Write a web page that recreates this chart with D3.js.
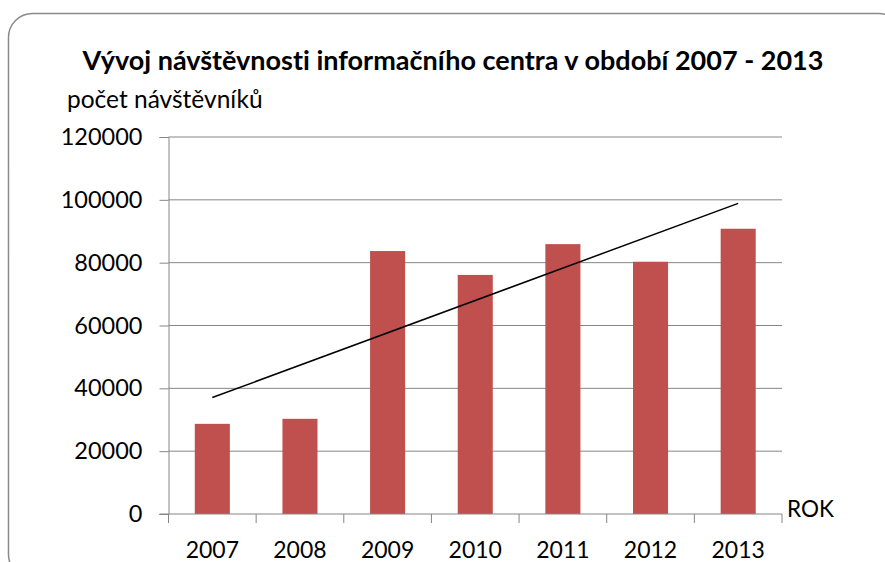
<!DOCTYPE html>
<html><head><meta charset="utf-8">
<script src="https://cdn.jsdelivr.net/npm/d3@7"></script>
<style>
html,body{margin:0;padding:0;background:#fff;}
svg{display:block;font-family:Lato,"Open Sans",sans-serif;font-variant-ligatures:none;font-feature-settings:"liga" 0;}
</style></head>
<body>
<svg id="c" width="885" height="562"></svg>
<script>
const years = ["2007","2008","2009","2010","2011","2012","2013"];
const visitors = [28700, 30300, 83700, 76100, 85900, 80300, 90800];
const yTicks = [0, 20000, 40000, 60000, 80000, 100000, 120000];
const titleText = "Vývoj návštěvnosti informačního centra v období 2007 - 2013";
const yAxisTitle = "počet návštěvníků";
const xAxisTitle = "ROK";

(function(){
const svg = d3.select("#c");
const pLeft = 168.5, pRight = 782, pTop = 137, pBottom = 514;

// frame
svg.append("rect").attr("x",8.5).attr("y",13.5).attr("width",894).attr("height",565)
  .attr("rx",24).attr("fill","#fff").attr("stroke","#8a8a8a").attr("stroke-width",1.5);

const x = d3.scaleBand().domain(years).range([pLeft,pRight]).paddingInner(0.6).paddingOuter(0.3);
const y = d3.scaleLinear().domain([0,120000]).range([pBottom,pTop]);

// gridlines
svg.append("g").selectAll("line").data(yTicks.filter(d=>d>0)).join("line")
  .attr("x1",pLeft).attr("x2",pRight).attr("y1",d=>y(d)).attr("y2",d=>y(d))
  .attr("stroke","#868686").attr("stroke-width",1);

// y axis
const yAxis = d3.axisLeft(y).tickValues(yTicks).tickSize(9).tickPadding(17).tickFormat(d3.format("d"));
const gy = svg.append("g").attr("transform",`translate(${pLeft},0)`).call(yAxis);
gy.select(".domain").attr("stroke","#868686");
gy.selectAll(".tick line").attr("stroke","#868686");
gy.selectAll("text").attr("font-size",23.5).attr("fill","#000").attr("font-family","Lato");

// bars
svg.append("g").selectAll("rect").data(years).join("rect")
  .attr("x",d=>x(d)).attr("width",x.bandwidth())
  .attr("y",(d,i)=>y(visitors[i])).attr("height",(d,i)=>pBottom-y(visitors[i]))
  .attr("fill","#C0504D");

// x axis
const gx = svg.append("g").attr("transform",`translate(0,${pBottom})`);
gx.append("line").attr("x1",pLeft-9).attr("x2",pRight).attr("y1",0).attr("y2",0).attr("stroke","#868686");
const step = x.step();
const bounds = d3.range(years.length+1).map(i=>pLeft + i*step);
gx.selectAll("line.t").data(bounds).join("line").attr("class","t")
  .attr("x1",d=>d).attr("x2",d=>d).attr("y1",0).attr("y2",9).attr("stroke","#868686");
gx.selectAll("text").data(years).join("text")
  .attr("x",d=>x(d)+x.bandwidth()/2).attr("y",44)
  .attr("text-anchor","middle").attr("font-size",23).attr("fill","#000").text(d=>d);

// linear trendline (least squares)
const n = visitors.length;
const xs = d3.range(1,n+1);
const mx = d3.mean(xs), my = d3.mean(visitors);
const slope = d3.sum(xs,(xi,i)=>(xi-mx)*(visitors[i]-my)) / d3.sum(xs,xi=>(xi-mx)*(xi-mx));
const icpt = my - slope*mx;
const trend = [years[0], years[n-1]].map((yr,k)=>({yr, v: icpt + slope*(k===0?1:n)}));
svg.append("path").datum(trend)
  .attr("d",d3.line().x(d=>x(d.yr)+x.bandwidth()/2).y(d=>y(d.v)))
  .attr("stroke","#000").attr("stroke-width",1.5).attr("fill","none");

// titles
svg.append("text").attr("x",453).attr("y",70).attr("text-anchor","middle")
  .attr("font-size",27).attr("font-weight","bold").attr("fill","#000").text(titleText);
svg.append("text").attr("x",67).attr("y",108).attr("font-size",24.5).attr("fill","#000").text(yAxisTitle);
svg.append("text").attr("x",787).attr("y",517).attr("font-size",22.5).attr("fill","#000").text(xAxisTitle);
})();
</script>
</body></html>
